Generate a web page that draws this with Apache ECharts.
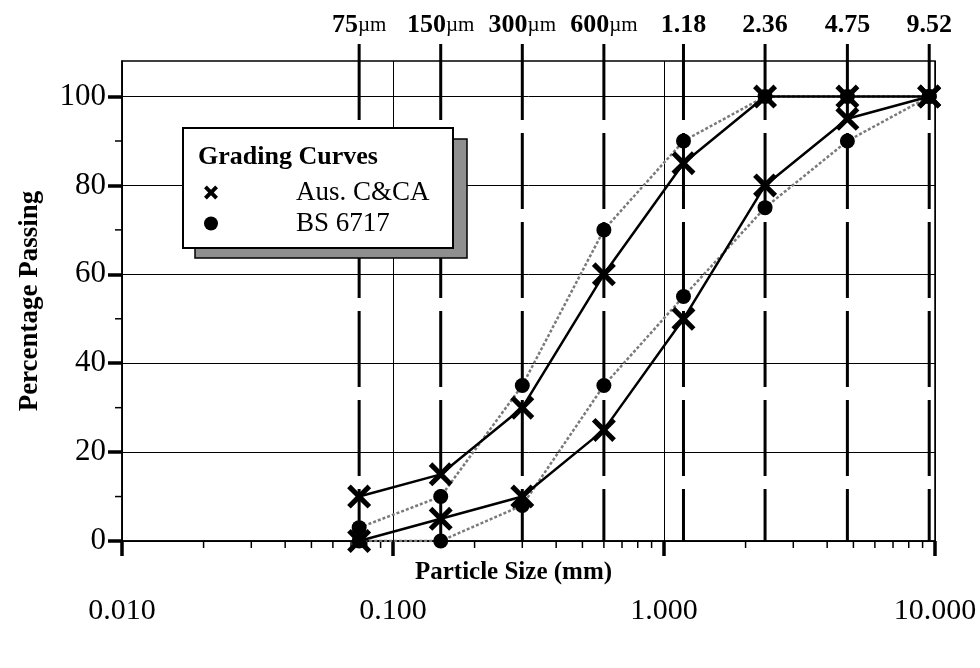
<!DOCTYPE html>
<html><head><meta charset="utf-8">
<script src="https://cdn.jsdelivr.net/npm/echarts@6/dist/echarts.min.js"></script>
<style>html,body{margin:0;padding:0;background:#fff}#c{width:980px;height:668px}</style>
</head><body><div id="c"></div>
<script>
// ---- data ----
const sieveSizes  = [0.075, 0.15, 0.3, 0.6, 1.18, 2.36, 4.75, 9.52];
const sieveNums   = ['75', '150', '300', '600', '1.18', '2.36', '4.75', '9.52'];
const sieveUnits  = ['µm', 'µm', 'µm', 'µm', '', '', '', ''];
const ausUpper    = [10, 15, 30, 60, 85, 100, 100, 100];
const ausLower    = [0, 5, 10, 25, 50, 80, 95, 100];
const bsUpper     = [3, 10, 35, 70, 90, 100, 100, 100];
const bsLower     = [0, 0, 8, 35, 55, 75, 90, 100];
const yTickValues = [0, 20, 40, 60, 80, 100];
const yMinorTicks = [10, 30, 50, 70, 90];
const xMinorTicks = [0.02,0.03,0.04,0.05,0.06,0.07,0.08,0.09,
                     0.2,0.3,0.4,0.5,0.6,0.7,0.8,0.9,
                     2,3,4,5,6,7,8,9];
const Y_MAX = 108;

const serif = '"Liberation Serif", "Times New Roman", serif';
const X_PATH = 'path://M0,3L3,0L10,7L17,0L20,3L13,10L20,17L17,20L10,13L3,20L0,17L7,10Z';
const X_ICON = 'path://M0,4L4,0L10,6L16,0L20,4L14,10L20,16L16,20L10,14L4,20L0,16L6,10Z';
const pairs = vals => sieveSizes.map((s, i) => [s, vals[i]]);

function renderSieve(params, api) {
  const x = api.value(0);
  const top = api.coord([x, Y_MAX]);
  const bot = api.coord([x, 0]);
  const i = params.dataIndex;
  return {
    type: 'group',
    children: [
      { type: 'line', shape: { x1: bot[0], y1: top[1] - 17, x2: bot[0], y2: bot[1] },
        style: { stroke: '#000', lineWidth: 3, lineDash: [76, 13] } },
      { type: 'text', x: bot[0], y: top[1] - 36,
        style: { text: '{n|' + sieveNums[i] + '}' + (sieveUnits[i] ? '{u|' + sieveUnits[i] + '}' : ''),
          align: 'center', verticalAlign: 'middle',
          rich: { n: { fontFamily: serif, fontWeight: 'bold', fontSize: 26, fill: '#000' },
                  u: { fontFamily: serif, fontSize: 21, fill: '#000' } } } }
    ]
  };
}
function renderXMinor(params, api) {
  const p = api.coord([api.value(0), api.value(1)]);
  return { type: 'line', shape: { x1: p[0], y1: p[1], x2: p[0], y2: p[1] + 7 },
           style: { stroke: '#000', lineWidth: 1.5 } };
}
function renderYMinor(params, api) {
  const p = api.coord([api.value(0), api.value(1)]);
  return { type: 'line', shape: { x1: p[0] - 7, y1: p[1], x2: p[0], y2: p[1] },
           style: { stroke: '#000', lineWidth: 1.5 } };
}

const chart = echarts.init(document.getElementById('c'), null, { renderer: 'canvas' });
chart.setOption({
  animation: false,
  backgroundColor: '#fff',
  grid: { left: 122, right: 45, top: 61, bottom: 127, show: true, borderColor: '#000', borderWidth: 1.5, backgroundColor: 'transparent' },
  title: {
    text: 'Grading Curves', left: 198, top: 144, padding: 0, z: 10,
    textStyle: { fontFamily: serif, fontWeight: 'bold', fontSize: 26, color: '#000' }
  },
  legend: {
    orient: 'vertical', left: 204, top: 179, padding: 0, itemGap: 4, z: 10,
    itemWidth: 14, itemHeight: 14,
    data: [{ name: 'Aus. C&CA', icon: X_ICON }, { name: 'BS 6717', icon: 'circle' }],
    textStyle: { fontFamily: serif, fontSize: 27, color: '#000', padding: [0, 0, 0, 73] }
  },
  graphic: [
    { type: 'rect', z: 5, shape: { x: 195, y: 139, width: 272, height: 119 },
      style: { fill: '#8f8f8f', stroke: '#000', lineWidth: 1.5 } },
    { type: 'rect', z: 6, shape: { x: 183, y: 128, width: 270, height: 120 },
      style: { fill: '#fff', stroke: '#000', lineWidth: 2 } }
  ],
  xAxis: {
    type: 'log', logBase: 10, min: 0.01, max: 10,
    name: 'Particle Size (mm)', nameLocation: 'middle', nameGap: 19, nameMoveOverlap: false,
    nameTextStyle: { fontFamily: serif, fontWeight: 'bold', fontSize: 25, color: '#000', padding: [0, 30, 0, 0] },
    axisLine: { lineStyle: { color: '#000', width: 1.5 } },
    axisTick: { length: 15, lineStyle: { color: '#000', width: 3.5 } },
    axisLabel: { margin: 55, fontFamily: serif, fontSize: 30, color: '#000',
                 formatter: v => Number(v).toFixed(3) },
    splitLine: { show: true, lineStyle: { color: '#000', width: 1 } },
    minorTick: { show: false }
  },
  yAxis: {
    type: 'value', min: 0, max: Y_MAX, interval: 20,
    name: 'Percentage Passing', nameLocation: 'middle', nameGap: 78, nameRotate: 90, nameMoveOverlap: false,
    nameTextStyle: { fontFamily: serif, fontWeight: 'bold', fontSize: 27, color: '#000' },
    axisLine: { show: true, lineStyle: { color: '#000', width: 1.5 } },
    axisTick: { show: true, length: 14, customValues: yTickValues, lineStyle: { color: '#000', width: 3.5 } },
    axisLabel: { margin: 16, fontFamily: serif, fontSize: 31, color: '#000', customValues: yTickValues },
    splitLine: { show: true, lineStyle: { color: '#000', width: 1 } }
  },
  series: [
    { type: 'custom', name: 'sieves', silent: true, z: 1, clip: false,
      renderItem: renderSieve, data: sieveSizes.map(s => [s, 0]) },
    { type: 'custom', name: 'xminor', silent: true, z: 1, clip: false,
      renderItem: renderXMinor, data: xMinorTicks.map(v => [v, 0]) },
    { type: 'custom', name: 'yminor', silent: true, z: 1, clip: false,
      renderItem: renderYMinor, data: yMinorTicks.map(v => [0.01, v]) },
    { type: 'line', name: 'BS 6717', data: pairs(bsUpper), symbol: 'circle', symbolSize: 15, z: 3,
      lineStyle: { color: '#7a7a7a', width: 2.5, type: [3, 2] }, itemStyle: { color: '#000' } },
    { type: 'line', name: 'BS 6717', data: pairs(bsLower), symbol: 'circle', symbolSize: 15, z: 3,
      lineStyle: { color: '#7a7a7a', width: 2.5, type: [3, 2] }, itemStyle: { color: '#000' } },
    { type: 'line', name: 'Aus. C&CA', data: pairs(ausUpper), symbol: X_PATH, symbolSize: 24, z: 4,
      lineStyle: { color: '#000', width: 2.5 }, itemStyle: { color: '#000' } },
    { type: 'line', name: 'Aus. C&CA', data: pairs(ausLower), symbol: X_PATH, symbolSize: 24, z: 4,
      lineStyle: { color: '#000', width: 2.5 }, itemStyle: { color: '#000' } }
  ]
});
</script></body></html>
